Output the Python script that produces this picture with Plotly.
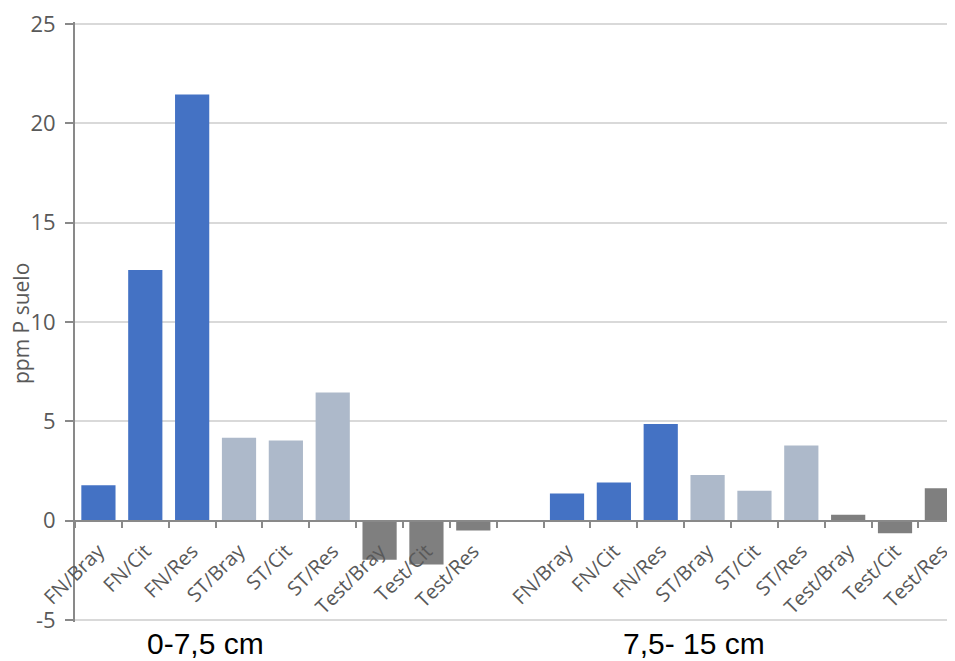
import plotly.graph_objects as go

# ---- data ----
categories = ["FN/Bray", "FN/Cit", "FN/Res", "ST/Bray", "ST/Cit", "ST/Res",
              "Test/Bray", "Test/Cit", "Test/Res"]
treatment = ["FN", "FN", "FN", "ST", "ST", "ST", "Test", "Test", "Test"]
depth_labels = ["0-7,5 cm", "7,5- 15 cm"]
vals_0_7_5 = [1.78, 12.62, 21.45, 4.18, 4.03, 6.45, -1.97, -2.2, -0.5]
vals_7_5_15 = [1.37, 1.92, 4.87, 2.3, 1.5, 3.78, 0.3, -0.63, 1.63]
y_ticks = [-5, 0, 5, 10, 15, 20, 25]
y_tick_text = ["-5", "0", "5", "10", "15", "20", "25"]

colors = {"FN": "#4472C4", "ST": "#ADB9CA", "Test": "#7F7F7F"}

# positions: group 1, an empty slot, group 2
n = len(categories)
x_pos = list(range(n)) + [n + 1 + i for i in range(n)]
y_vals = vals_0_7_5 + vals_7_5_15
bar_colors = [colors[t] for t in treatment] * 2
tick_text = categories * 2

fig = go.Figure()
fig.add_trace(go.Bar(x=x_pos, y=y_vals, marker=dict(color=bar_colors, line=dict(width=0)),
                     showlegend=False))

gray_txt = "#595959"
axis_gray = "#898989"
font_family = "Open Sans, Noto Sans, sans-serif"

# page body has an 8px margin; compensate so the figure fills the 955x661 window
OFF = 8
W, H = 955 - OFF, 661 - OFF
x_max = 2 * n + 1 - 0.5 - 0.22
ext = 0.1
y_lo, y_hi = y_ticks[0] - ext, y_ticks[-1] + ext
pad = ext * 20  # ~20 px per unit
ml, mr = 75 - OFF, 0
mt, mb = 20 - OFF - pad, 661 - 620 - pad

fig.update_layout(
    width=W, height=H,
    margin=dict(l=ml, r=mr, t=mt, b=mb),
    paper_bgcolor="white", plot_bgcolor="white",
    bargap=0.27,
    xaxis=dict(
        range=[-0.5, x_max],
        tickmode="array", tickvals=x_pos, ticktext=tick_text,
        tickangle=-45, ticks="outside", ticklen=0,
        tickfont=dict(family=font_family, size=20, color=gray_txt),
        showline=True, linecolor=axis_gray, linewidth=2,
        showgrid=False, zeroline=False,
        anchor="free", position=(0 - y_lo) / (y_hi - y_lo),
        minor=dict(tickmode="linear", tick0=0.5, dtick=1, ticks="outside",
                   ticklen=6, tickwidth=1.5, tickcolor=axis_gray, showgrid=False),
        ticklabelstandoff=10, ticklabeloverflow="allow",
    ),
    yaxis=dict(
        range=[y_lo, y_hi], tickmode="array", tickvals=y_ticks, ticktext=y_tick_text,
        showgrid=True, gridcolor="#D9D9D9", gridwidth=1.5,
        showline=True, linecolor=axis_gray, linewidth=2,
        ticks="outside", ticklen=8, tickwidth=1.5, tickcolor=axis_gray,
        tickfont=dict(family=font_family, size=22, color=gray_txt),
        zeroline=False, ticklabelstandoff=5, ticklabeloverflow="allow",
    ),
)

plot_w = W - ml - mr
plot_h = H - mt - mb

def px_to_paper_x(px):
    return (px - OFF - ml) / plot_w

def px_to_paper_y(py):
    return (H - mb - (py - OFF)) / plot_h

fig.add_annotation(text="ppm P suelo", textangle=-90, showarrow=False,
                   xref="paper", yref="paper",
                   x=px_to_paper_x(21), y=px_to_paper_y(322),
                   xanchor="center", yanchor="middle",
                   font=dict(family=font_family, size=21, color=gray_txt))

for lbl, cx in zip(depth_labels, [205, 694]):
    fig.add_annotation(text=lbl, showarrow=False, xref="paper", yref="paper",
                       x=px_to_paper_x(cx), y=px_to_paper_y(644),
                       xanchor="center", yanchor="middle",
                       font=dict(family="Liberation Sans, Arial, sans-serif", size=30, color="black"))

fig.write_html("out.html")
